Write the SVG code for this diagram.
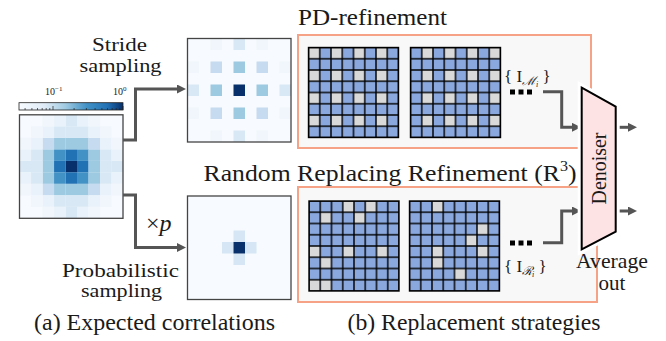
<svg xmlns="http://www.w3.org/2000/svg" width="666" height="341" viewBox="0 0 666 341">
<style>
.t{font-family:'Liberation Serif',serif;fill:#1a1a1a}
.td{font-family:'Liberation Serif','DejaVu Serif',serif;fill:#1a1a1a}
.c0{fill:#08306b}.c1{fill:#2171b5}.c2{fill:#4292c6}.c3{fill:#9ecae1}.c4{fill:#c6dbef}.c5{fill:#d9e8f5}.c6{fill:#e9f2fa}.c7{fill:#f0f6fc}
.hmbg{fill:#f7fbff;stroke:none}
.frame{fill:none;stroke:#444;stroke-width:1.3}
.gb{fill:#8aa8de}
.gg{fill:#d9d9d9}
.conn{fill:none;stroke:#555;stroke-width:3}
.obox{fill:#f8f8f8;stroke:#f5a286;stroke-width:2}
</style>
<defs>
<marker id="ah" viewBox="0 0 10 10" refX="0" refY="5" markerWidth="3" markerHeight="3" orient="auto" markerUnits="strokeWidth"><path d="M0,0L10,5L0,10z" fill="#555"/></marker>
<pattern id="gl" width="11.25" height="11.25" patternUnits="userSpaceOnUse"><path d="M0,0H11.25V11.25H0Z" fill="none" stroke="#000" stroke-width="1.4"/></pattern>
<linearGradient id="blues" x1="0" x2="1" y1="0" y2="0">
<stop offset="0" stop-color="#f7fbff"/><stop offset="0.25" stop-color="#deebf7"/><stop offset="0.45" stop-color="#9ecae1"/><stop offset="0.65" stop-color="#4292c6"/><stop offset="0.85" stop-color="#2171b5"/><stop offset="1" stop-color="#08306b"/>
</linearGradient>
<g id="grid"><rect width="90" height="90" fill="url(#gl)"/><rect width="90" height="90" fill="none" stroke="#000" stroke-width="1.4"/></g>
</defs>

<!-- orange boxes -->
<g id="pd-box"><rect class="obox" x="298" y="35" width="293" height="113"/></g>
<g id="r3-box"><rect class="obox" x="298" y="187" width="299" height="115"/></g>

<!-- titles -->
<text class="t" x="298" y="25" font-size="24" textLength="149" lengthAdjust="spacingAndGlyphs">PD-refinement</text>
<text class="t" x="203.5" y="181" font-size="24" textLength="373" lengthAdjust="spacingAndGlyphs">Random Replacing Refinement (R<tspan font-size="15" dy="-10">3</tspan><tspan dy="10">)</tspan></text>

<!-- colorbar -->
<g id="colorbar">
<rect x="19" y="102.7" width="104" height="7.3" fill="url(#blues)" stroke="#222" stroke-width="0.8"/>
<path d="M53,110V106M123,110V106M25.1,110V108M31.9,110V108M37.5,110V108M42.2,110V108M46.2,110V108M49.8,110V108M74.1,110V108M86.4,110V108M95.1,110V108M101.9,110V108M107.5,110V108M112.2,110V108M116.2,110V108M119.8,110V108" stroke="#222" stroke-width="0.7"/>
<text class="t" x="45" y="95" font-size="10">10<tspan font-size="7" dy="-4">−1</tspan></text>
<text class="t" x="113" y="95" font-size="10">10<tspan font-size="7" dy="-4">0</tspan></text>
</g>

<!-- expected correlation heatmap -->
<g id="heatmap-full">
<rect class="hmbg" x="19.5" y="114.8" width="103.5" height="103.5"/>
<g>
<rect class="c0" x="65.5" y="160.8" width="11.6" height="11.6"/>
<rect class="c1" x="54" y="160.8" width="11.6" height="11.6"/><rect class="c1" x="77" y="160.8" width="11.6" height="11.6"/><rect class="c1" x="65.5" y="149.3" width="11.6" height="11.6"/><rect class="c1" x="65.5" y="172.3" width="11.6" height="11.6"/>
<rect class="c2" x="54" y="149.3" width="11.6" height="11.6"/><rect class="c2" x="77" y="149.3" width="11.6" height="11.6"/><rect class="c2" x="54" y="172.3" width="11.6" height="11.6"/><rect class="c2" x="77" y="172.3" width="11.6" height="11.6"/>
<rect class="c3" x="42.5" y="160.8" width="11.6" height="11.6"/><rect class="c3" x="88.5" y="160.8" width="11.6" height="11.6"/><rect class="c3" x="65.5" y="137.8" width="11.6" height="11.6"/><rect class="c3" x="65.5" y="183.8" width="11.6" height="11.6"/>
<rect class="c3" x="42.5" y="149.3" width="11.6" height="11.6"/><rect class="c3" x="42.5" y="172.3" width="11.6" height="11.6"/><rect class="c3" x="88.5" y="149.3" width="11.6" height="11.6"/><rect class="c3" x="88.5" y="172.3" width="11.6" height="11.6"/>
<rect class="c3" x="54" y="137.8" width="11.6" height="11.6"/><rect class="c3" x="77" y="137.8" width="11.6" height="11.6"/><rect class="c3" x="54" y="183.8" width="11.6" height="11.6"/><rect class="c3" x="77" y="183.8" width="11.6" height="11.6"/>
<rect class="c4" x="42.5" y="137.8" width="11.6" height="11.6"/><rect class="c4" x="88.5" y="137.8" width="11.6" height="11.6"/><rect class="c4" x="42.5" y="183.8" width="11.6" height="11.6"/><rect class="c4" x="88.5" y="183.8" width="11.6" height="11.6"/>
<rect class="c5" x="31" y="160.8" width="11.6" height="11.6"/><rect class="c5" x="100" y="160.8" width="11.6" height="11.6"/><rect class="c5" x="65.5" y="126.3" width="11.6" height="11.6"/><rect class="c5" x="65.5" y="195.3" width="11.6" height="11.6"/>
<rect class="c5" x="31" y="149.3" width="11.6" height="11.6"/><rect class="c5" x="31" y="172.3" width="11.6" height="11.6"/><rect class="c5" x="100" y="149.3" width="11.6" height="11.6"/><rect class="c5" x="100" y="172.3" width="11.6" height="11.6"/>
<rect class="c5" x="54" y="126.3" width="11.6" height="11.6"/><rect class="c5" x="77" y="126.3" width="11.6" height="11.6"/><rect class="c5" x="54" y="195.3" width="11.6" height="11.6"/><rect class="c5" x="77" y="195.3" width="11.6" height="11.6"/>
<rect class="c5" x="19.5" y="160.8" width="11.6" height="11.6"/><rect class="c5" x="111.5" y="160.8" width="11.5" height="11.6"/><rect class="c5" x="65.5" y="114.8" width="11.6" height="11.6"/><rect class="c5" x="65.5" y="206.8" width="11.6" height="11.5"/>
<rect class="c6" x="31" y="137.8" width="11.6" height="11.6"/><rect class="c6" x="31" y="183.8" width="11.6" height="11.6"/><rect class="c6" x="100" y="137.8" width="11.6" height="11.6"/><rect class="c6" x="100" y="183.8" width="11.6" height="11.6"/>
<rect class="c6" x="42.5" y="126.3" width="11.6" height="11.6"/><rect class="c6" x="88.5" y="126.3" width="11.6" height="11.6"/><rect class="c6" x="42.5" y="195.3" width="11.6" height="11.6"/><rect class="c6" x="88.5" y="195.3" width="11.6" height="11.6"/>
<rect class="c6" x="19.5" y="149.3" width="11.6" height="11.6"/><rect class="c6" x="19.5" y="172.3" width="11.6" height="11.6"/><rect class="c6" x="111.5" y="149.3" width="11.5" height="11.6"/><rect class="c6" x="111.5" y="172.3" width="11.5" height="11.6"/>
<rect class="c6" x="54" y="114.8" width="11.6" height="11.6"/><rect class="c6" x="77" y="114.8" width="11.6" height="11.6"/><rect class="c6" x="54" y="206.8" width="11.6" height="11.5"/><rect class="c6" x="77" y="206.8" width="11.6" height="11.5"/>
<rect class="c7" x="31" y="126.3" width="11.6" height="11.6"/><rect class="c7" x="100" y="126.3" width="11.6" height="11.6"/><rect class="c7" x="31" y="195.3" width="11.6" height="11.6"/><rect class="c7" x="100" y="195.3" width="11.6" height="11.6"/>
<rect class="c7" x="19.5" y="137.8" width="11.6" height="11.6"/><rect class="c7" x="19.5" y="183.8" width="11.6" height="11.6"/><rect class="c7" x="111.5" y="137.8" width="11.5" height="11.6"/><rect class="c7" x="111.5" y="183.8" width="11.5" height="11.6"/>
<rect class="c7" x="42.5" y="114.8" width="11.6" height="11.6"/><rect class="c7" x="88.5" y="114.8" width="11.6" height="11.6"/><rect class="c7" x="42.5" y="206.8" width="11.6" height="11.5"/><rect class="c7" x="88.5" y="206.8" width="11.6" height="11.5"/>
</g>
<rect class="frame" x="19.5" y="114.8" width="103.5" height="103.5"/>
</g>

<!-- stride sampled heatmap -->
<g id="heatmap-stride">
<rect class="hmbg" x="187.5" y="38.5" width="103.5" height="103.5"/>
<rect class="c0" x="233.5" y="84.5" width="11.5" height="11.5"/>
<rect class="c3" x="210.5" y="84.5" width="11.5" height="11.5"/><rect class="c3" x="256.5" y="84.5" width="11.5" height="11.5"/><rect class="c3" x="233.5" y="61.5" width="11.5" height="11.5"/><rect class="c3" x="233.5" y="107.5" width="11.5" height="11.5"/>
<rect class="c4" x="210.5" y="61.5" width="11.5" height="11.5"/><rect class="c4" x="256.5" y="61.5" width="11.5" height="11.5"/><rect class="c4" x="210.5" y="107.5" width="11.5" height="11.5"/><rect class="c4" x="256.5" y="107.5" width="11.5" height="11.5"/>
<rect class="c5" x="187.5" y="84.5" width="11.5" height="11.5"/><rect class="c5" x="279.5" y="84.5" width="11.5" height="11.5"/><rect class="c5" x="233.5" y="38.5" width="11.5" height="11.5"/><rect class="c5" x="233.5" y="130.5" width="11.5" height="11.5"/>
<rect class="c7" x="187.5" y="61.5" width="11.5" height="11.5"/><rect class="c7" x="187.5" y="107.5" width="11.5" height="11.5"/><rect class="c7" x="279.5" y="61.5" width="11.5" height="11.5"/><rect class="c7" x="279.5" y="107.5" width="11.5" height="11.5"/>
<rect class="c7" x="210.5" y="38.5" width="11.5" height="11.5"/><rect class="c7" x="256.5" y="38.5" width="11.5" height="11.5"/><rect class="c7" x="210.5" y="130.5" width="11.5" height="11.5"/><rect class="c7" x="256.5" y="130.5" width="11.5" height="11.5"/>
<rect class="frame" x="187.5" y="38.5" width="103.5" height="103.5"/>
</g>

<!-- probabilistic sampled heatmap -->
<g id="heatmap-random">
<rect class="hmbg" x="187.5" y="196" width="103.5" height="103.5"/>
<rect fill="#d6e6f4" x="222" y="242" width="11.5" height="11.5"/><rect fill="#d6e6f4" x="245" y="242" width="11.5" height="11.5"/><rect fill="#d6e6f4" x="233.5" y="230.5" width="11.5" height="11.5"/><rect fill="#d6e6f4" x="233.5" y="253.5" width="11.5" height="11.5"/>
<rect class="c0" x="233.5" y="242" width="11.5" height="11.5"/>
<rect class="frame" x="187.5" y="196" width="103.5" height="103.5"/>
</g>

<!-- mask grids -->
<g id="pd-grid-1" transform="translate(308.5,47.5)">
<rect class="gb" width="90" height="90"/>
<g class="gg"><rect x="0" y="0" width="11.25" height="11.25"/><rect x="22.5" y="0" width="11.25" height="11.25"/><rect x="45" y="0" width="11.25" height="11.25"/><rect x="67.5" y="0" width="11.25" height="11.25"/>
<rect x="0" y="22.5" width="11.25" height="11.25"/><rect x="22.5" y="22.5" width="11.25" height="11.25"/><rect x="45" y="22.5" width="11.25" height="11.25"/><rect x="67.5" y="22.5" width="11.25" height="11.25"/>
<rect x="0" y="45" width="11.25" height="11.25"/><rect x="22.5" y="45" width="11.25" height="11.25"/><rect x="45" y="45" width="11.25" height="11.25"/><rect x="67.5" y="45" width="11.25" height="11.25"/>
<rect x="0" y="67.5" width="11.25" height="11.25"/><rect x="22.5" y="67.5" width="11.25" height="11.25"/><rect x="45" y="67.5" width="11.25" height="11.25"/><rect x="67.5" y="67.5" width="11.25" height="11.25"/></g>
<use href="#grid"/>
</g>
<g id="pd-grid-2" transform="translate(410.5,47.5)">
<rect class="gb" width="90" height="90"/>
<g class="gg"><rect x="11.25" y="0" width="11.25" height="11.25"/><rect x="33.75" y="0" width="11.25" height="11.25"/><rect x="56.25" y="0" width="11.25" height="11.25"/><rect x="78.75" y="0" width="11.25" height="11.25"/>
<rect x="11.25" y="22.5" width="11.25" height="11.25"/><rect x="33.75" y="22.5" width="11.25" height="11.25"/><rect x="56.25" y="22.5" width="11.25" height="11.25"/><rect x="78.75" y="22.5" width="11.25" height="11.25"/>
<rect x="11.25" y="45" width="11.25" height="11.25"/><rect x="33.75" y="45" width="11.25" height="11.25"/><rect x="56.25" y="45" width="11.25" height="11.25"/><rect x="78.75" y="45" width="11.25" height="11.25"/>
<rect x="11.25" y="67.5" width="11.25" height="11.25"/><rect x="33.75" y="67.5" width="11.25" height="11.25"/><rect x="56.25" y="67.5" width="11.25" height="11.25"/><rect x="78.75" y="67.5" width="11.25" height="11.25"/></g>
<use href="#grid"/>
</g>
<g id="r3-grid-1" transform="translate(309,201)">
<rect class="gb" width="90" height="90"/>
<g class="gg"><rect x="33.75" y="0" width="11.25" height="11.25"/><rect x="56.25" y="0" width="11.25" height="11.25"/>
<rect x="11.25" y="11.25" width="11.25" height="11.25"/><rect x="45" y="11.25" width="11.25" height="11.25"/>
<rect x="0" y="45" width="11.25" height="11.25"/><rect x="33.75" y="45" width="11.25" height="11.25"/><rect x="67.5" y="45" width="11.25" height="11.25"/>
<rect x="11.25" y="56.25" width="11.25" height="11.25"/>
<rect x="0" y="78.75" width="11.25" height="11.25"/><rect x="11.25" y="78.75" width="11.25" height="11.25"/></g>
<use href="#grid"/>
</g>
<g id="r3-grid-2" transform="translate(409.5,201)">
<rect class="gb" width="90" height="90"/>
<g class="gg"><rect x="22.5" y="0" width="11.25" height="11.25"/>
<rect x="67.5" y="22.5" width="11.25" height="11.25"/>
<rect x="56.25" y="33.75" width="11.25" height="11.25"/>
<rect x="22.5" y="45" width="11.25" height="11.25"/><rect x="67.5" y="45" width="11.25" height="11.25"/>
<rect x="22.5" y="56.25" width="11.25" height="11.25"/>
<rect x="45" y="67.5" width="11.25" height="11.25"/></g>
<use href="#grid"/>
</g>

<!-- ellipsis dots and set labels -->
<g id="pd-more">
<rect x="510" y="89.5" width="5" height="5" fill="#000"/><rect x="518.5" y="89.5" width="5" height="5" fill="#000"/><rect x="527" y="89.5" width="5" height="5" fill="#000"/>
<text class="td" x="504" y="82" font-size="17">{ I<tspan font-size="12" dy="3" font-style="italic">ℳ</tspan><tspan font-size="8" dy="1.5" font-style="italic">i</tspan><tspan font-size="17" dy="-4.5"> }</tspan></text>
</g>
<g id="r3-more">
<rect x="510" y="240.5" width="5" height="5" fill="#000"/><rect x="518.5" y="240.5" width="5" height="5" fill="#000"/><rect x="527" y="240.5" width="5" height="5" fill="#000"/>
<text class="td" x="504" y="272" font-size="17">{ I<tspan font-size="12" dy="3" font-style="italic">ℛ</tspan><tspan font-size="8" dy="1.5" font-style="italic">i</tspan><tspan font-size="17" dy="-4.5"> }</tspan></text>
</g>

<!-- connectors -->
<g id="connectors">
<path class="conn" d="M123,140H135.5V89H177" marker-end="url(#ah)"/>
<path class="conn" d="M123,195H135.5V247.5H177" marker-end="url(#ah)"/>
<path class="conn" d="M543,91.7H561.7V127.3H572" marker-end="url(#ah)"/>
<path class="conn" d="M543,242.7H561.7V211H572" marker-end="url(#ah)"/>
<path class="conn" d="M616,127.3H628" marker-end="url(#ah)"/>
<path class="conn" d="M616,211H628" marker-end="url(#ah)"/>
</g>

<!-- denoiser -->
<g id="denoiser">
<polygon points="581.7,87.7 615.7,106.7 615.7,231.7 581.7,249.3" fill="none" stroke="#fff" stroke-width="8"/>
<polygon points="581.7,87.7 615.7,106.7 615.7,231.7 581.7,249.3" fill="#fde3e3" stroke="#000" stroke-width="2"/>
<text class="t" transform="translate(606,168.5) rotate(-90)" text-anchor="middle" font-size="20" textLength="72" lengthAdjust="spacingAndGlyphs">Denoiser</text>
</g>

<!-- side labels -->
<text class="t" x="119.5" y="51" font-size="19" text-anchor="middle" textLength="55" lengthAdjust="spacingAndGlyphs">Stride</text>
<text class="t" x="120.5" y="72" font-size="19" text-anchor="middle" textLength="82" lengthAdjust="spacingAndGlyphs">sampling</text>
<text class="t" x="146" y="231" font-size="24">×<tspan font-style="italic">p</tspan></text>
<text class="t" x="120.5" y="277" font-size="19" text-anchor="middle" textLength="117" lengthAdjust="spacingAndGlyphs">Probabilistic</text>
<text class="t" x="121.5" y="297" font-size="19" text-anchor="middle" textLength="81" lengthAdjust="spacingAndGlyphs">sampling</text>
<text class="t" x="612" y="268" font-size="21" text-anchor="middle" textLength="72" lengthAdjust="spacingAndGlyphs">Average</text>
<text class="t" x="612" y="290" font-size="21" text-anchor="middle">out</text>

<!-- captions -->
<text class="t" x="154.5" y="330" font-size="23" text-anchor="middle" textLength="241" lengthAdjust="spacingAndGlyphs">(a) Expected correlations</text>
<text class="t" x="474" y="330" font-size="23" text-anchor="middle" textLength="253" lengthAdjust="spacingAndGlyphs">(b) Replacement strategies</text>
</svg>
